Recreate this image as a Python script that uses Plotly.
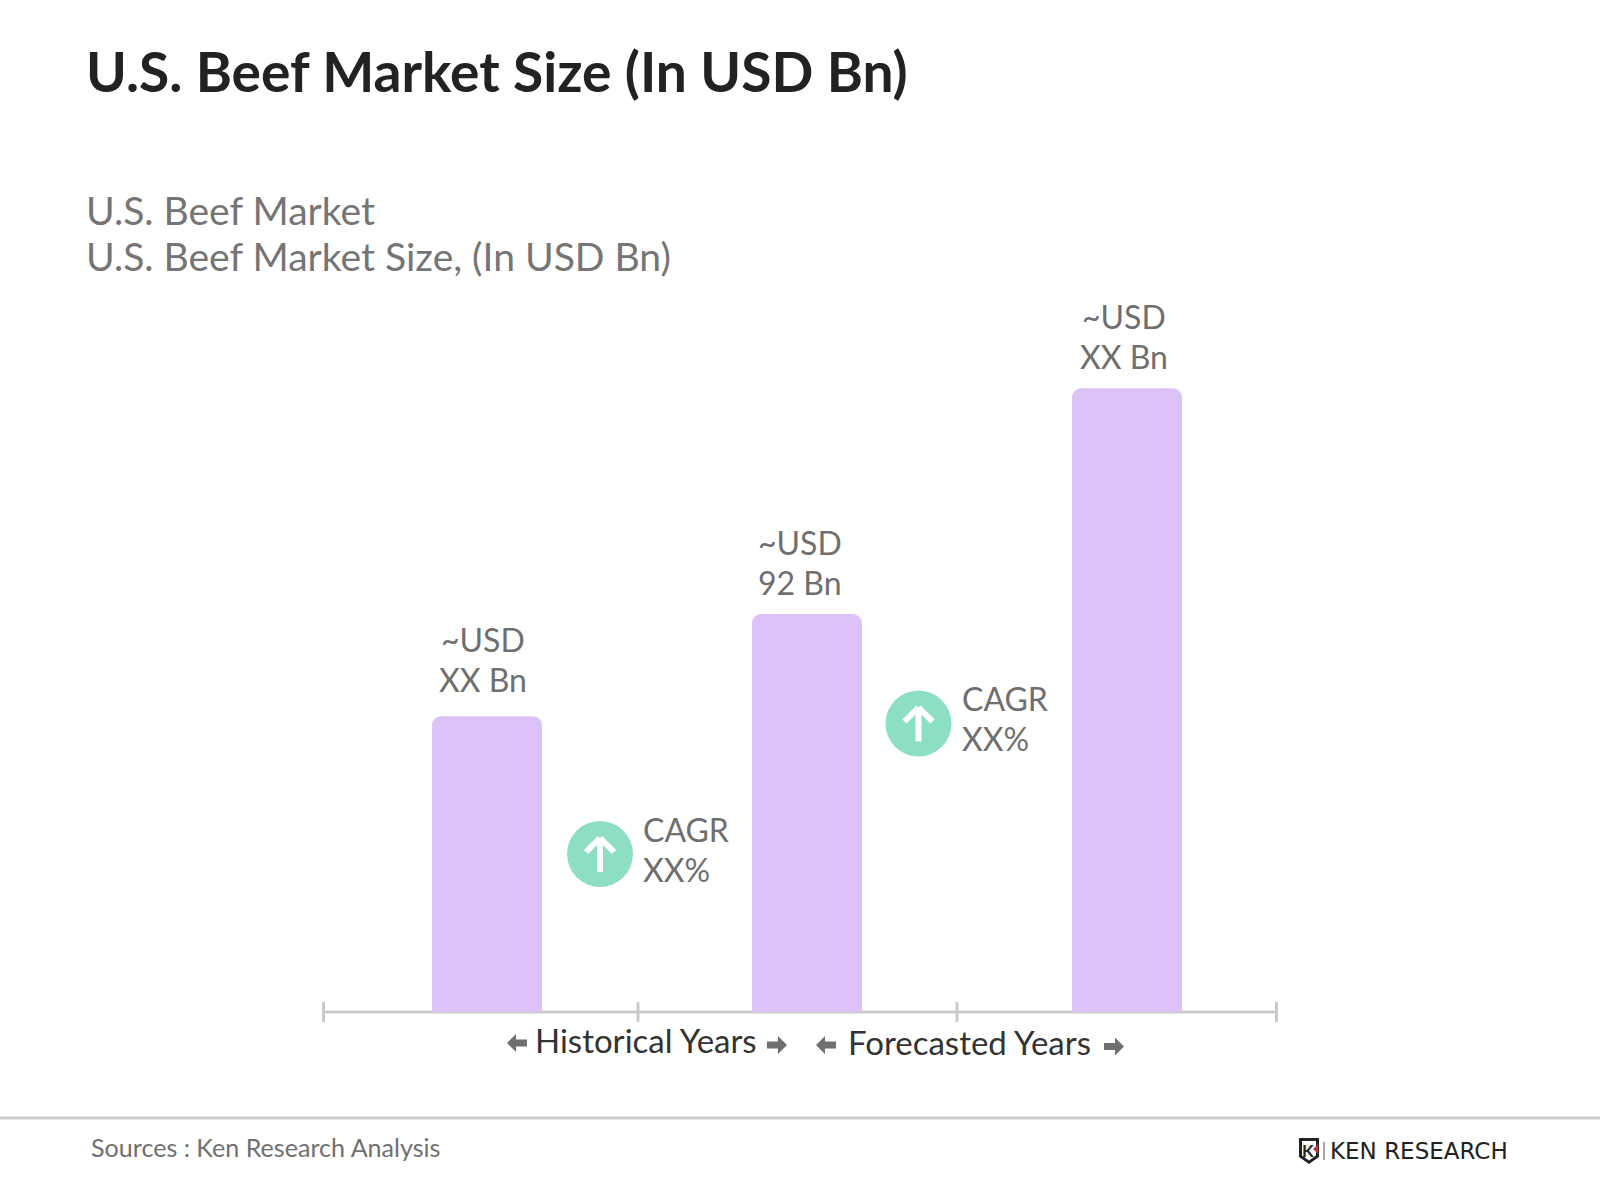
import plotly.graph_objects as go

# values, middle one is labelled 92
periods = ["Historical", "Current", "Forecast"]
market_size = [68.4, 92, 144.2]
bar_labels = ["~USD<br>XX Bn", "~USD<br>92 Bn", "~USD<br>XX Bn"]
cagr_labels = ["CAGR<br>XX%", "CAGR<br>XX%"]

W = 1600
H = 1200
LEFT = 327
RIGHT = 1287
BOTTOM = 1012
TOP = 320
LATO = "Lato"
GREY = "#6f6f6f"


def px_x(x):
    return x / W


def px_y(y):
    return 1 - y / H


def text(x, y, s, size, color=GREY, anchor="left", family=LATO, bold=False):
    if bold:
        s = "<b>" + s + "</b>"
    fig.add_annotation(xref="paper", yref="paper", x=px_x(x), y=px_y(y), text=s, showarrow=False,
                       xanchor=anchor, yanchor="middle", align="left", borderpad=0,
                       font=dict(family=family, size=size, color=color))


def line(x0, y0, x1, y1, color="#cbcbcb", width=3, layer="above"):
    fig.add_shape(type="line", xref="paper", yref="paper", x0=px_x(x0), y0=px_y(y0), x1=px_x(x1), y1=px_y(y1),
                  line=dict(color=color, width=width), layer=layer)


def polygon(pts, color):
    path = "M " + " L ".join("%f %f" % (px_x(a), px_y(b)) for a, b in pts) + " Z"
    fig.add_shape(type="path", xref="paper", yref="paper", path=path, fillcolor=color, line=dict(width=0))


def arrow(cx, cy, d):
    # small grey block arrow next to the year spans, d=1 points right
    polygon([(cx + 10 * d, cy), (cx + 1 * d, cy - 9), (cx + 1 * d, cy - 3.5), (cx - 10 * d, cy - 3.5),
             (cx - 10 * d, cy + 3.5), (cx + 1 * d, cy + 3.5), (cx + 1 * d, cy + 9)], GREY)


fig = go.Figure()
fig.add_bar(x=periods, y=market_size, width=0.3435, marker=dict(color="#dcc2f7", line=dict(width=0)))

fig.update_layout(width=W, height=H, autosize=False, showlegend=False, plot_bgcolor="white", paper_bgcolor="white",
                  margin=dict(l=0, r=0, t=0, b=0), barcornerradius=9)
fig.update_xaxes(domain=[px_x(LEFT), px_x(RIGHT)], range=[-0.5, 2.5], showticklabels=False, showgrid=False,
                 zeroline=False, ticks="")
fig.update_yaxes(domain=[px_y(BOTTOM), px_y(TOP)], range=[0, 160], showticklabels=False, showgrid=False,
                 zeroline=False, ticks="")

# labels above the bars, lines placed one by one to get the tighter spacing
for p, v, lab, dx, dy in zip(periods, market_size, bar_labels, [-4, -7, -3], [5, 0, 0]):
    first, second = lab.split("<br>")
    fig.add_annotation(x=p, y=v, text=first, showarrow=False, yanchor="bottom", xshift=dx, yshift=50.5 + dy,
                       font=dict(family=LATO, size=32, color=GREY))
    fig.add_annotation(x=p, y=v, text=second, showarrow=False, yanchor="bottom", xshift=dx, yshift=10.5 + dy,
                       font=dict(family=LATO, size=32, color=GREY))

# axis line
line(323.5, 1012, 1276.5, 1012, layer="below")
for tx in [323.5, 638, 957, 1276.5]:
    line(tx, 1002, tx, 1022)

# titles
text(85, 71, "U.S. Beef Market Size (In USD Bn)", 55.1, "#222222", bold=True)
text(85, 209, "U.S. Beef Market", 39.05, "#757575")
text(85, 255, "U.S. Beef Market Size, (In USD Bn)", 39.05, "#757575")

# cagr badges
for (cx, cy), lab in zip([(600, 854), (918.5, 723.5)], cagr_labels):
    fig.add_shape(type="circle", xref="paper", yref="paper", x0=px_x(cx - 33), x1=px_x(cx + 33),
                  y0=px_y(cy + 33), y1=px_y(cy - 33), fillcolor="#8ddfc3", line=dict(width=0))
    line(cx, cy + 18, cx, cy - 15, "white", 6)
    line(cx - 14, cy - 2, cx, cy - 16, "white", 6)
    line(cx + 14, cy - 2, cx, cy - 16, "white", 6)
    first, second = lab.split("<br>")
    text(cx + 42, cy - 25, first, 32)
    text(cx + 42, cy + 15, second, 32)

# year spans
text(534, 1039.5, "Historical Years", 33, "#333333")
text(847, 1041.5, "Forecasted Years", 33, "#333333")
arrow(517, 1043, -1)
arrow(777, 1045, 1)
arrow(826, 1045, -1)
arrow(1114, 1046.5, 1)

# footer
line(0, 1118, 1600, 1118)
text(90, 1147, "Sources : Ken Research Analysis", 25.1, "#707070")

# logo
polygon([(1299, 1138), (1319, 1138), (1319, 1157), (1309, 1164), (1299, 1157)], "#222222")
polygon([(1302, 1141), (1316, 1141), (1316, 1155.5), (1309, 1160.5), (1302, 1155.5)], "white")
text(1308, 1150.5, "K", 17, "#222222", "center", bold=True)
polygon([(1313, 1149), (1318, 1144), (1318, 1154)], "#c8323c")
line(1324, 1142, 1324, 1160, "#555555", 1)
text(1329, 1151, "KEN RESEARCH", 23, "#222222", family="DejaVu Sans")

fig.write_html("out.html", config={"displayModeBar": False}, post_script="document.body.style.margin='0';")
